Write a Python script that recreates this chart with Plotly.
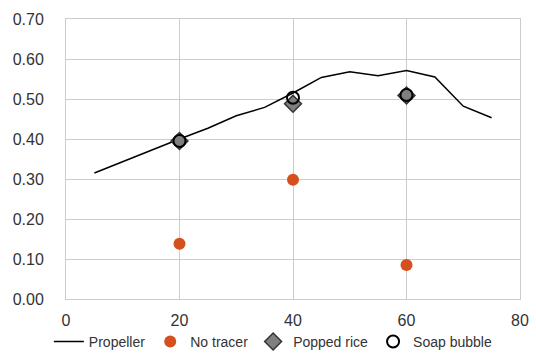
import plotly.graph_objects as go

prop_x = [5, 10, 15, 20, 25, 30, 35, 40, 45, 50, 55, 60, 65, 70, 75]
prop_y = [0.315, 0.344, 0.372, 0.400, 0.427, 0.458, 0.479, 0.515, 0.554, 0.568, 0.558, 0.571, 0.555, 0.482, 0.453]

pt_x = [20, 40, 60]
no_tracer = [0.138, 0.298, 0.085]
popped_rice = [0.395, 0.488, 0.509]
soap_bubble = [0.395, 0.503, 0.510]

fig = go.Figure()
fig.add_trace(go.Scatter(x=prop_x, y=prop_y, mode="lines", name="Propeller",
                         line=dict(color="black", width=1.5)))
fig.add_trace(go.Scatter(x=pt_x, y=no_tracer, mode="markers", name="No tracer",
                         marker=dict(symbol="circle", size=12, color="#D5501C",
                                     line=dict(width=0))))
fig.add_trace(go.Scatter(x=pt_x, y=popped_rice, mode="markers", name="Popped rice",
                         marker=dict(symbol="diamond", size=13, color="#7F7F7F",
                                     line=dict(width=1.5, color="#333333"))))
fig.add_trace(go.Scatter(x=pt_x, y=soap_bubble, mode="markers", name="Soap bubble",
                         marker=dict(symbol="circle-open", size=12, color="black",
                                     line=dict(width=2, color="black"))))

grid = "#cccccc"
fig.update_layout(
    width=536, height=358,
    margin=dict(l=66, r=16, t=19, b=59, autoexpand=False),
    paper_bgcolor="white", plot_bgcolor="white",
    font=dict(family="Liberation Sans, Arial, sans-serif", color="#333333", size=16),
    showlegend=True,
    legend=dict(orientation="h", x=0.51, xanchor="center", xref="container",
                y=0.045, yanchor="middle", yref="container",
                font=dict(size=14, color="#333333"), itemwidth=30, tracegroupgap=0),
    xaxis=dict(range=[0, 80], tickvals=[0, 20, 40, 60, 80], showgrid=True, gridcolor=grid,
               zeroline=False, showline=True, linecolor=grid, mirror=True, ticks="",
               ticklen=0, automargin=False, ticklabelstandoff=7),
    yaxis=dict(range=[0, 0.70], tickvals=[0, 0.1, 0.2, 0.3, 0.4, 0.5, 0.6, 0.7],
               tickformat=".2f", showgrid=True, gridcolor=grid, zeroline=False,
               showline=True, linecolor=grid, mirror=True, ticks="", ticklen=0,
               automargin=False, ticklabelstandoff=18),
)
fig.write_html("out.html", config={"displayModeBar": False},
               post_script="document.body.style.margin='0';")
